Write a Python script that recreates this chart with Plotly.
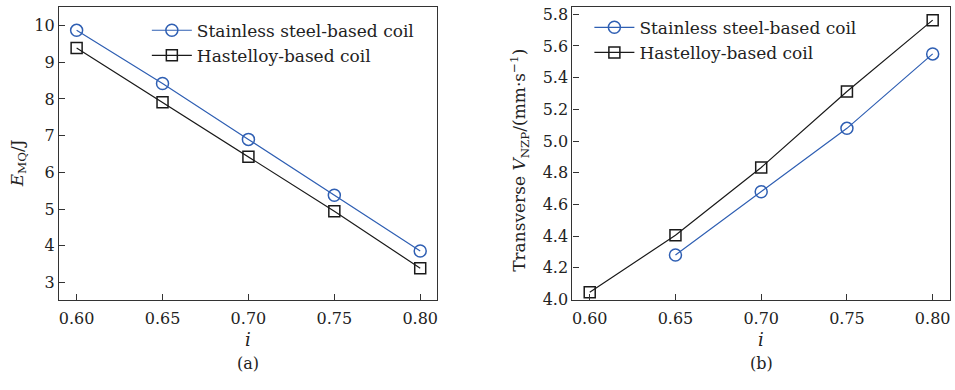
import plotly.graph_objects as go

i_vals = [0.60, 0.65, 0.70, 0.75, 0.80]
e_stainless = [9.87, 8.42, 6.90, 5.38, 3.86]
e_hastelloy = [9.39, 7.91, 6.43, 4.94, 3.39]
i_vals_b_ss = [0.65, 0.70, 0.75, 0.80]
v_stainless = [4.28, 4.68, 5.08, 5.55]
v_hastelloy = [4.045, 4.405, 4.833, 5.313, 5.763]
xticks = [0.60, 0.65, 0.70, 0.75, 0.80]
xtick_text = ["0.60", "0.65", "0.70", "0.75", "0.80"]
yticks_a = [3, 4, 5, 6, 7, 8, 9, 10]
yticks_b = [4.0, 4.2, 4.4, 4.6, 4.8, 5.0, 5.2, 5.4, 5.6, 5.8]
names = ["Stainless steel-based coil", "Hastelloy-based coil"]

BLUE = "#2f5fb3"
BLACK = "#1a1a1a"
TXT = "#222"
FONT = "DejaVu Serif"
W, H = 955, 390

fig = go.Figure()
def px_x(a, b):
    return [a / W, b / W]
def px_y(top, bottom):
    return [1 - bottom / H, 1 - top / H]

def add(x, y, name, sym, color, size, xa, ya, leg):
    fig.add_trace(go.Scatter(x=x, y=y, name=name, mode="lines+markers",
        line=dict(color=color, width=1.2),
        marker=dict(symbol=sym, size=size, color=color, line=dict(width=1.5)),
        xaxis=xa, yaxis=ya, legend=leg))

add(i_vals, e_stainless, names[0], "circle-open", BLUE, 12, "x", "y", "legend")
add(i_vals, e_hastelloy, names[1], "square-open", BLACK, 11, "x", "y", "legend")
add(i_vals_b_ss, v_stainless, names[0], "circle-open", BLUE, 12, "x2", "y2", "legend2")
add(i_vals, v_hastelloy, names[1], "square-open", BLACK, 11, "x2", "y2", "legend2")

axis_common = dict(showline=True, linecolor="#333", linewidth=1.2, mirror=True,
                   ticks="inside", ticklen=6, tickcolor="#333", showgrid=False,
                   zeroline=False, tickfont=dict(family=FONT, size=16, color=TXT))

fig.update_layout(
    width=W, height=H, margin=dict(l=0, r=0, t=0, b=0),
    plot_bgcolor="white", paper_bgcolor="white",
    font=dict(family=FONT, color=TXT),
    xaxis=dict(domain=px_x(59, 437), range=[0.5897, 0.8095], tickvals=xticks,
               ticktext=xtick_text, anchor="y", ticklabelstandoff=3, **axis_common),
    yaxis=dict(domain=px_y(5, 307), range=[2.515, 10.51], tickvals=yticks_a,
               anchor="x", **axis_common),
    xaxis2=dict(domain=px_x(573, 951), range=[0.5899, 0.8101], tickvals=xticks,
                ticktext=xtick_text, anchor="y2", ticklabelstandoff=3, **axis_common),
    yaxis2=dict(domain=px_y(5, 307), range=[3.994, 5.847], tickvals=yticks_b,
                ticktext=[f"{v:.1f}" for v in yticks_b], anchor="x2", **axis_common),
    legend=dict(x=147 / W, y=1 - 11 / H, xanchor="left", yanchor="top",
                bgcolor="rgba(0,0,0,0)", font=dict(family=FONT, size=17, color=TXT),
                tracegroupgap=0, itemwidth=40),
    legend2=dict(x=590 / W, y=1 - 8 / H, xanchor="left", yanchor="top",
                 bgcolor="rgba(0,0,0,0)", font=dict(family=FONT, size=17, color=TXT),
                 tracegroupgap=0, itemwidth=40),
    showlegend=True,
)

ann = []
ann.append(dict(text="<i>E</i><sub>MQ</sub>/J", x=18 / W, y=1 - 166 / H, xref="paper",
                yref="paper", textangle=-90, showarrow=False, xanchor="center",
                yanchor="middle", font=dict(family=FONT, size=17, color=TXT)))
ann.append(dict(text="Transverse <i>V</i><sub>NZP</sub>/(mm·s<sup>−1</sup>)", x=520 / W,
                y=1 - 163 / H, xref="paper", yref="paper", textangle=-90, showarrow=False,
                xanchor="center", yanchor="middle",
                font=dict(family=FONT, size=17, color=TXT)))
for cx, lab in [(248, "(a)"), (762, "(b)")]:
    ann.append(dict(text="<i>i</i>", x=cx / W, y=1 - 347 / H, xref="paper", yref="paper",
                    showarrow=False, xanchor="center", yanchor="middle",
                    font=dict(family=FONT, size=18, color=TXT)))
    ann.append(dict(text=lab, x=cx / W, y=1 - 372 / H, xref="paper", yref="paper",
                    showarrow=False, xanchor="center", yanchor="middle",
                    font=dict(family=FONT, size=16, color=TXT)))
fig.update_layout(annotations=ann)

fig.write_html("out.html")
